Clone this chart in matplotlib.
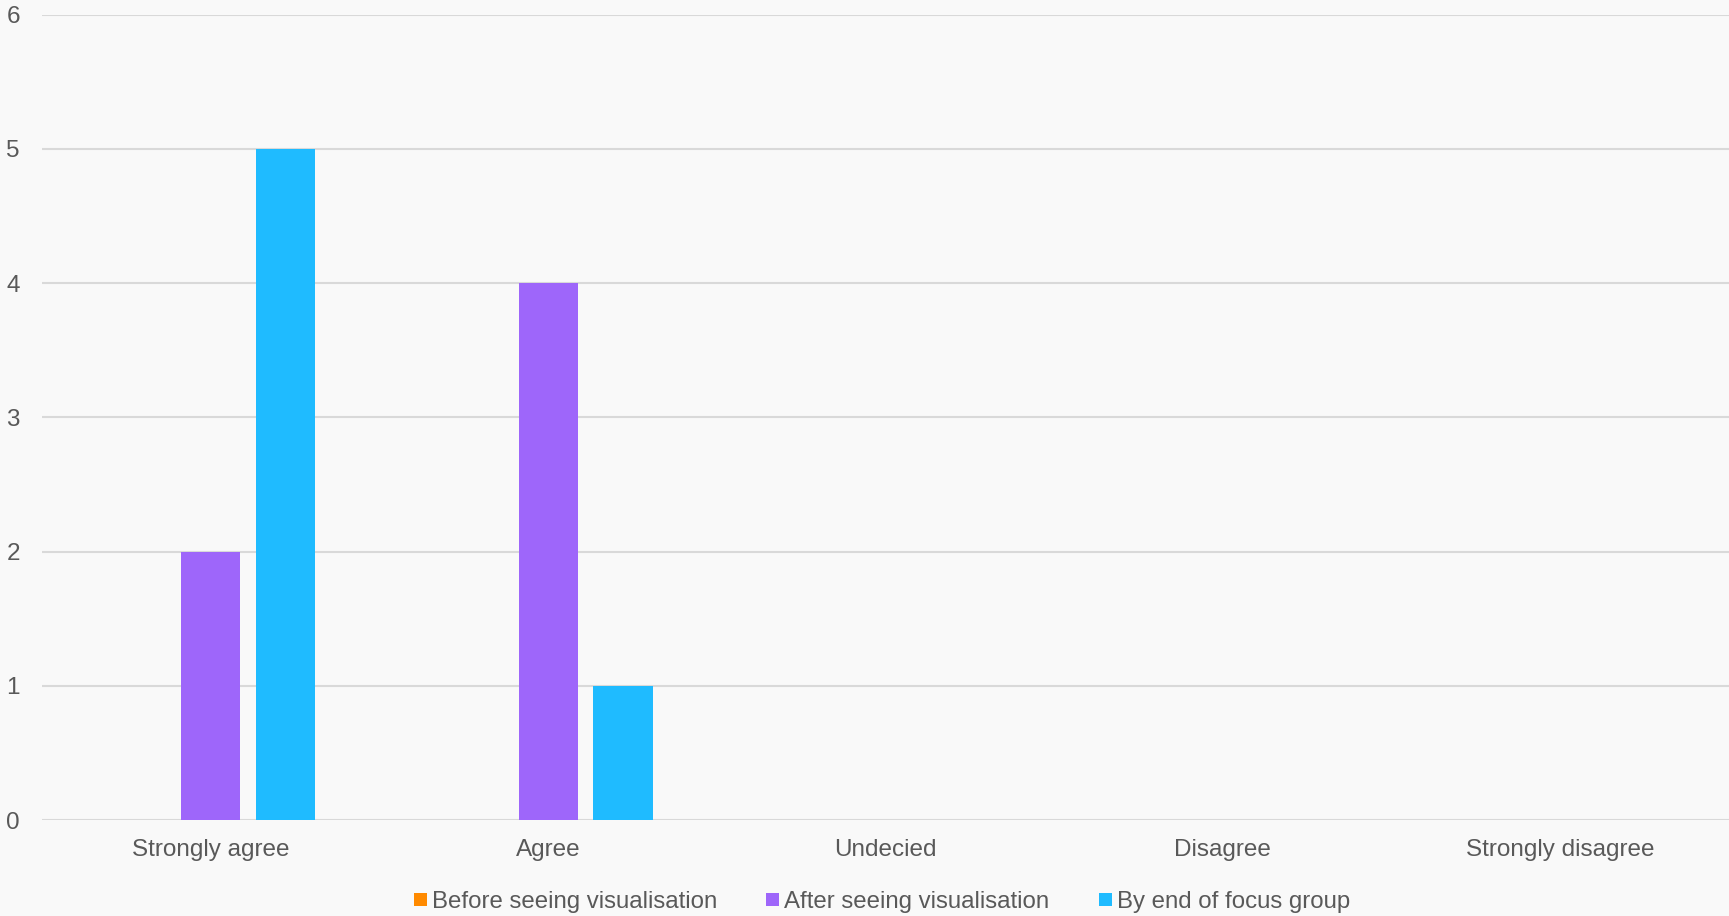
import matplotlib.pyplot as plt
import numpy as np

# survey responses
categories = ['Strongly agree', 'Agree', 'Undecied', 'Disagree', 'Strongly disagree']
before_vis = [0, 0, 0, 0, 0]
after_vis = [2, 4, 0, 0, 0]
end_of_group = [5, 1, 0, 0, 0]
series_names = ['Before seeing visualisation', 'After seeing visualisation', 'By end of focus group']
y_ticks = [0, 1, 2, 3, 4, 5, 6]

colors = ['#FF8A00', '#9E66FA', '#1FBBFF']
bg = '#F9F9F9'
text_col = '#595959'

plt.rcParams['font.family'] = ['Liberation Sans', 'DejaVu Sans']

fig = plt.figure(figsize=(17.29, 9.16), dpi=100, facecolor=bg)
ax = fig.add_axes([0.0243, 0.1048, 0.9757, 0.8792])
ax.set_facecolor(bg)

x = np.arange(len(categories))
step = 0.222
width = 0.175
for i, (vals, name) in enumerate(zip([before_vis, after_vis, end_of_group], series_names)):
    ax.bar(x + (i - 1) * step, vals, width, color=colors[i], label=name, zorder=3)

ax.set_xlim(-0.5, len(categories) - 0.5)
ax.set_ylim(0, 6)
ax.set_yticks(y_ticks)
ax.set_xticks(x)
ax.set_xticklabels(categories)
ax.tick_params(axis='both', length=0, labelsize=17.5, colors=text_col)
ax.tick_params(axis='y', pad=16)
ax.tick_params(axis='x', pad=14)
ax.grid(axis='y', color='#D9D9D9', linewidth=1.5, zorder=0)
for s in ax.spines.values():
    s.set_visible(False)

leg = fig.legend(loc='center', bbox_to_anchor=(0.51, 0.0153), ncol=3, frameon=False,
                 fontsize=17.3, handlelength=0.55, handleheight=0.5, handletextpad=0.2,
                 columnspacing=2.05, borderaxespad=0)
for t in leg.get_texts():
    t.set_color(text_col)

fig.savefig('out.png', dpi=100, facecolor=bg)
